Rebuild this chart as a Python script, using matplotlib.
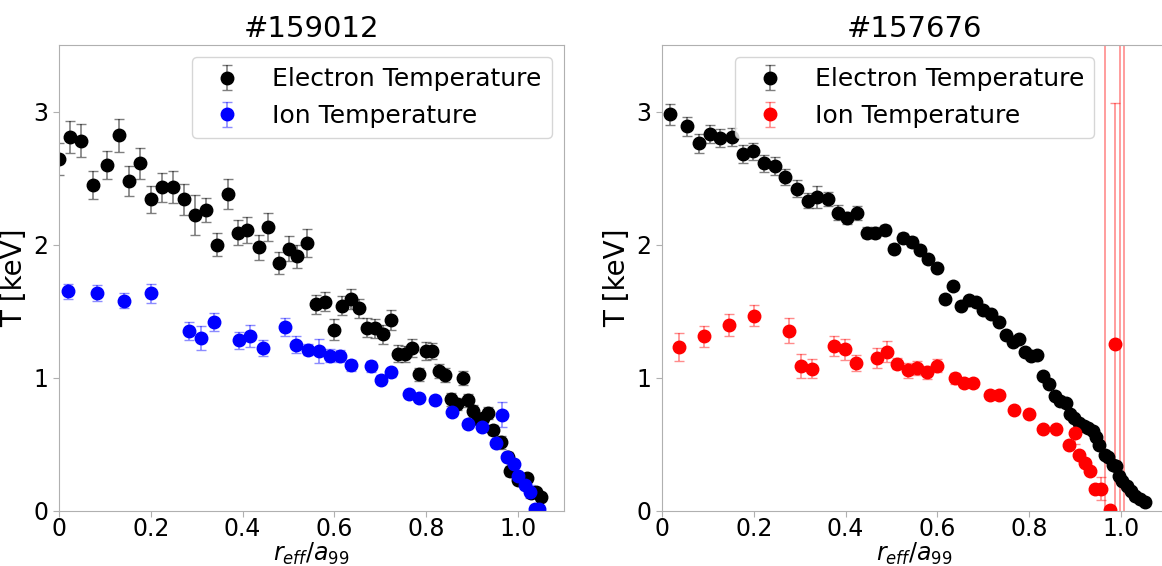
import matplotlib
matplotlib.use('Agg')
import matplotlib.pyplot as plt
import numpy as np

# shot #159012
te1_x = [0.0, 0.023, 0.047, 0.073, 0.104, 0.13, 0.152, 0.176, 0.2, 0.224, 0.248, 0.272, 0.296, 0.32,
         0.344, 0.368, 0.39, 0.41, 0.435, 0.455, 0.479, 0.5, 0.518, 0.54, 0.559, 0.58, 0.598, 0.617,
         0.636, 0.653, 0.671, 0.688, 0.706, 0.723, 0.738, 0.754, 0.769, 0.785, 0.8, 0.812, 0.827,
         0.841, 0.854, 0.866, 0.879, 0.89, 0.901, 0.913, 0.924, 0.935, 0.945, 0.963, 0.978, 0.983,
         0.999, 1.02, 1.027, 1.04, 1.049]
te1_y = [2.64, 2.81, 2.78, 2.45, 2.60, 2.82, 2.48, 2.61, 2.34, 2.43, 2.43, 2.34, 2.22, 2.26,
         2.0, 2.38, 2.09, 2.11, 1.98, 2.13, 1.86, 1.97, 1.91, 2.01, 1.55, 1.57, 1.36, 1.54,
         1.59, 1.52, 1.375, 1.37, 1.325, 1.435, 1.18, 1.18, 1.22, 1.025, 1.20, 1.20, 1.048,
         1.018, 0.836, 0.80, 0.996, 0.829, 0.745, 0.687, 0.695, 0.732, 0.605, 0.514, 0.402, 0.298,
         0.229, 0.248, 0.134, 0.141, 0.104]
te1_err = [0.12, 0.12, 0.124, 0.105, 0.105, 0.127, 0.113, 0.118, 0.10, 0.108, 0.12, 0.115, 0.149, 0.09,
           0.09, 0.11, 0.092, 0.097, 0.093, 0.104, 0.082, 0.096, 0.083, 0.103, 0.074, 0.072, 0.08, 0.07,
           0.073, 0.072, 0.072, 0.07, 0.07, 0.076, 0.062, 0.06, 0.066, 0.05, 0.07, 0.06, 0.05,
           0.05, 0.05, 0.045, 0.05, 0.05, 0.045, 0.04, 0.04, 0.045, 0.04, 0.05, 0.04, 0.035,
           0.03, 0.03, 0.03, 0.03, 0.03]

ti1_x = [0.02, 0.083, 0.141, 0.2, 0.283, 0.31, 0.338, 0.391, 0.417, 0.444, 0.493, 0.517, 0.543,
         0.567, 0.59, 0.613, 0.636, 0.679, 0.701, 0.723, 0.763, 0.783, 0.82, 0.856, 0.89, 0.921,
         0.952, 0.964, 0.976, 0.99, 1.0, 1.014, 1.026, 1.036, 1.046]
ti1_y = [1.648, 1.638, 1.579, 1.633, 1.35, 1.298, 1.42, 1.281, 1.313, 1.221, 1.38, 1.246, 1.209,
         1.197, 1.164, 1.159, 1.092, 1.085, 0.985, 1.04, 0.873, 0.844, 0.831, 0.742, 0.648, 0.625,
         0.511, 0.72, 0.402, 0.352, 0.258, 0.191, 0.141, 0.01, 0.01]
ti1_err = [0.057, 0.06, 0.056, 0.072, 0.067, 0.093, 0.067, 0.065, 0.082, 0.058, 0.068, 0.063, 0.04,
           0.09, 0.047, 0.046, 0.042, 0.04, 0.035, 0.035, 0.03, 0.03, 0.03, 0.03, 0.03, 0.03,
           0.03, 0.093, 0.03, 0.03, 0.03, 0.03, 0.05, 0.01, 0.01]

# shot #157676
te2_x = [0.018, 0.054, 0.080, 0.104, 0.127, 0.152, 0.176, 0.199, 0.222, 0.246, 0.268, 0.293, 0.317,
         0.338, 0.361, 0.383, 0.404, 0.425, 0.446, 0.465, 0.485, 0.505, 0.525, 0.544, 0.562, 0.580,
         0.598, 0.616, 0.634, 0.651, 0.669, 0.684, 0.700, 0.717, 0.733, 0.750, 0.765, 0.778, 0.791,
         0.804, 0.817, 0.831, 0.844, 0.855, 0.866, 0.88, 0.889, 0.898, 0.909, 0.92, 0.929, 0.938,
         0.945, 0.952, 0.965, 0.972, 0.983, 0.99, 0.995, 1.003, 1.012, 1.021, 1.03, 1.042, 1.053]
te2_y = [2.98, 2.89, 2.76, 2.83, 2.80, 2.81, 2.68, 2.70, 2.61, 2.59, 2.51, 2.42, 2.33,
         2.36, 2.34, 2.24, 2.20, 2.24, 2.09, 2.09, 2.11, 1.97, 2.05, 2.02, 1.96, 1.89,
         1.82, 1.59, 1.69, 1.54, 1.58, 1.57, 1.51, 1.48, 1.42, 1.32, 1.27, 1.29, 1.19,
         1.16, 1.17, 1.01, 0.955, 0.86, 0.82, 0.806, 0.724, 0.694, 0.657, 0.632, 0.619, 0.60,
         0.55, 0.49, 0.416, 0.40, 0.346, 0.333, 0.259, 0.222, 0.184, 0.147, 0.11, 0.085, 0.065]
te2_err = [0.08, 0.072, 0.074, 0.07, 0.07, 0.068, 0.068, 0.066, 0.063, 0.068, 0.06, 0.065, 0.058,
           0.083, 0.052, 0.058, 0.046, 0.053, 0.043, 0.04, 0.04, 0.035, 0.035, 0.035, 0.03, 0.03,
           0.03, 0.03, 0.03, 0.025, 0.025, 0.025, 0.02, 0.02, 0.02, 0.02, 0.02, 0.02, 0.02,
           0.02, 0.02, 0.02, 0.02, 0.02, 0.02, 0.02, 0.02, 0.02, 0.02, 0.02, 0.02, 0.02,
           0.02, 0.02, 0.02, 0.02, 0.02, 0.02, 0.02, 0.02, 0.02, 0.02, 0.02, 0.02, 0.02]

ti2_x = [0.038, 0.092, 0.146, 0.2, 0.277, 0.302, 0.327, 0.375, 0.399, 0.423, 0.468, 0.49, 0.512,
         0.535, 0.556, 0.577, 0.598, 0.638, 0.658, 0.678, 0.715, 0.733, 0.767, 0.8, 0.831, 0.859,
         0.887, 0.9, 0.909, 0.922, 0.933, 0.943, 0.956, 0.965, 0.976, 0.987, 0.997, 1.007]
ti2_y = [1.226, 1.31, 1.395, 1.465, 1.353, 1.087, 1.067, 1.237, 1.211, 1.11, 1.147, 1.194, 1.104,
         1.054, 1.072, 1.04, 1.09, 0.995, 0.96, 0.96, 0.868, 0.868, 0.756, 0.724, 0.612, 0.612,
         0.495, 0.582, 0.42, 0.358, 0.296, 0.159, 0.164, -2.0, 0.005, 1.254, -2.0, -2.0]
ti2_err = [0.105, 0.077, 0.086, 0.08, 0.093, 0.087, 0.074, 0.074, 0.078, 0.062, 0.074, 0.08, 0.043,
           0.056, 0.052, 0.05, 0.047, 0.04, 0.03, 0.03, 0.033, 0.03, 0.02, 0.02, 0.02, 0.02,
           0.02, 0.082, 0.02, 0.02, 0.02, 0.02, 0.087, 6.0, 0.02, 1.81, 6.0, 6.0]

shots = ['#159012', '#157676']
ion_colors = ['blue', 'red']
ion_ecolors = [(0, 0, 1, 0.45), (1, 0, 0, 0.45)]

fig = plt.figure(figsize=(11.62, 5.66), dpi=100)
ax1 = fig.add_axes([0.0508, 0.098, 0.4346, 0.8225])
ax2 = fig.add_axes([0.5697, 0.098, 0.4346, 0.8225])

data = [(te1_x, te1_y, te1_err, ti1_x, ti1_y, ti1_err),
        (te2_x, te2_y, te2_err, ti2_x, ti2_y, ti2_err)]

for i, ax in enumerate([ax1, ax2]):
    ex, ey, eerr, ix, iy, ierr = data[i]
    ax.errorbar(ex, ey, yerr=eerr, fmt='o', color='black', ecolor=(0, 0, 0, 0.5),
                markersize=9, capsize=3.5, elinewidth=1.2, label='Electron Temperature')
    ax.errorbar(ix, iy, yerr=ierr, fmt='o', color=ion_colors[i], ecolor=ion_ecolors[i],
                markersize=9, capsize=3.5, elinewidth=1.2, label='Ion Temperature')
    ax.set_xlim(0, 1.1)
    ax.set_ylim(0, 3.5)
    ax.set_xticks([0, 0.2, 0.4, 0.6, 0.8, 1.0])
    ax.set_xticklabels(['0', '0.2', '0.4', '0.6', '0.8', '1.0'])
    ax.set_yticks([0, 1, 2, 3])
    ax.tick_params(labelsize=17, color='#b0b0b0', length=4)
    ax.tick_params(axis='x', pad=1)
    for s in ax.spines.values():
        s.set_color('#b0b0b0')
    ax.set_title(shots[i], fontsize=21)
    ax.set_xlabel('$r_{eff}/a_{99}$', fontsize=17, labelpad=-0.5)
    ax.set_ylabel('T [keV]', fontsize=20)

ax1.legend(loc='upper right', fontsize=18)
ax2.legend(loc='upper center', fontsize=18)

fig.savefig('out.png', dpi=100)
